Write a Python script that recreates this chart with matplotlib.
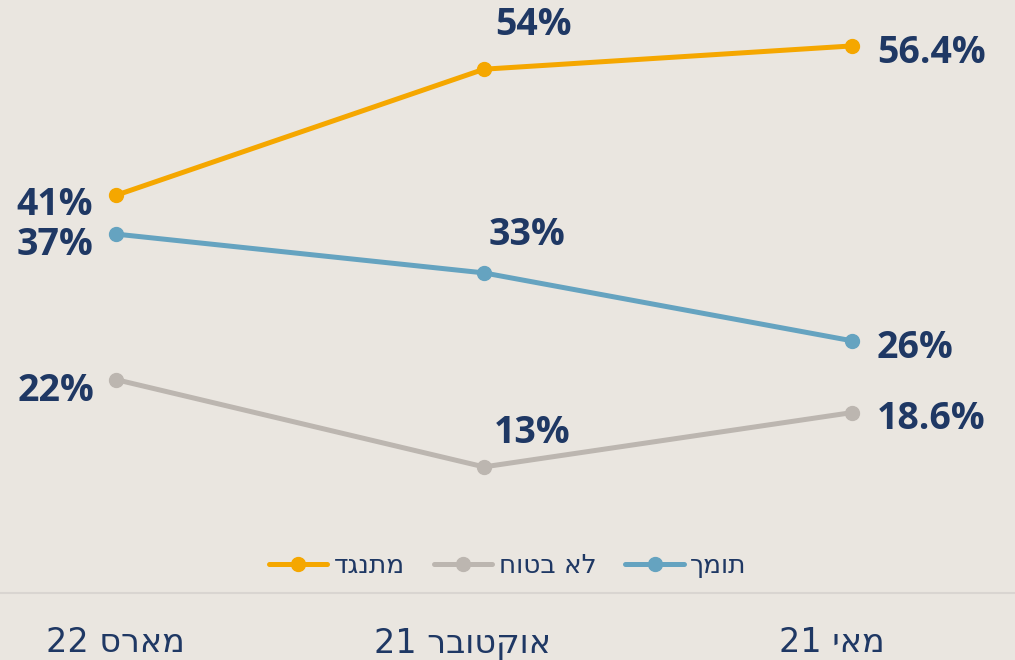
import matplotlib
matplotlib.use('AGG')
import numpy as np
import matplotlib.pyplot as plt
from matplotlib.transforms import blended_transform_factory

# DATA
categories = ['מארס 22', 'אוקטובר 21', 'מאי 21']
oppose = [41, 54, 56.4]
unsure = [22, 13, 18.6]
support = [37, 33, 26]
oppose_labels = ['41%', '54%', '56.4%']
unsure_labels = ['22%', '13%', '18.6%']
support_labels = ['37%', '33%', '26%']
series_names = ['מתנגד', 'לא בטוח', 'תומך']


def visual(s):
    # matplotlib has no bidi: flip Hebrew words, keep numbers in place
    parts = s.split(' ')
    heb = ' '.join(p for p in parts if not p.isdigit())
    num = ' '.join(p for p in parts if p.isdigit())
    return (num + ' ' + heb[::-1]).strip() if num else heb[::-1]


BG = '#EAE6E0'
NAVY = '#1F3864'
ORANGE = '#F5A700'
GRAY = '#BCB6B0'
BLUE = '#65A3C0'
heb_font = ['Liberation Sans Narrow', 'DejaVu Sans']
num_font = ['Open Sans', 'DejaVu Sans']

fig = plt.figure(figsize=(10.15, 6.6), dpi=100)
fig.patch.set_facecolor(BG)
ax = fig.add_axes([0, 0, 1, 1])
ax.set_facecolor(BG)

x = np.arange(len(categories))
px = 368.0  # pixels per category
py = 9.7    # pixels per percent
ax.set_xlim(-116 / px, (1015 - 116) / px)
ax.set_ylim(-(660 - 593) / py, 593 / py)
ax.axis('off')
ax.axhline(0, color='#D9D5D1', lw=1.5, zorder=1)

styles = [(oppose, ORANGE, oppose_labels), (unsure, GRAY, unsure_labels), (support, BLUE, support_labels)]
for (vals, col, labs), name in zip(styles, series_names):
    ax.plot(x, vals, color=col, lw=3.6, marker='o', ms=10, solid_capstyle='round',
            label=visual(name), zorder=3)

# label offsets in pixels: left / middle / right point
offs = {
    'o': [(-23, -10), (49, 44), (25, -7)],
    'u': [(-22, -11), (48, 34), (25, -6)],
    's': [(-23, -11), (43, 38), (25, -7)],
}
has = ['right', 'center', 'left']
for key, (vals, col, labs) in zip('ous', styles):
    for i in range(len(vals)):
        ax.annotate(labs[i], (x[i], vals[i]), xytext=offs[key][i], textcoords='offset pixels',
                    ha=has[i], va='center', fontsize=27, fontweight='bold', color=NAVY,
                    family=num_font)

tr = blended_transform_factory(ax.transData, ax.transAxes)
tick_dx = [-1, -22, -20]
for i, c in enumerate(categories):
    ax.text(x[i] + tick_dx[i] / px, (660 - 643) / 660, visual(c), transform=tr,
            ha='center', va='center', fontsize=24, color=NAVY, family=heb_font)

leg = fig.legend(loc='center', bbox_to_anchor=(508 / 1015, 1 - 566 / 660), ncol=3,
                 frameon=False, handlelength=2.2, columnspacing=1.1, handletextpad=0.25,
                 prop={'family': heb_font, 'size': 19})
for t in leg.get_texts():
    t.set_color(NAVY)

plt.savefig('out.png', dpi=100, facecolor=BG)
